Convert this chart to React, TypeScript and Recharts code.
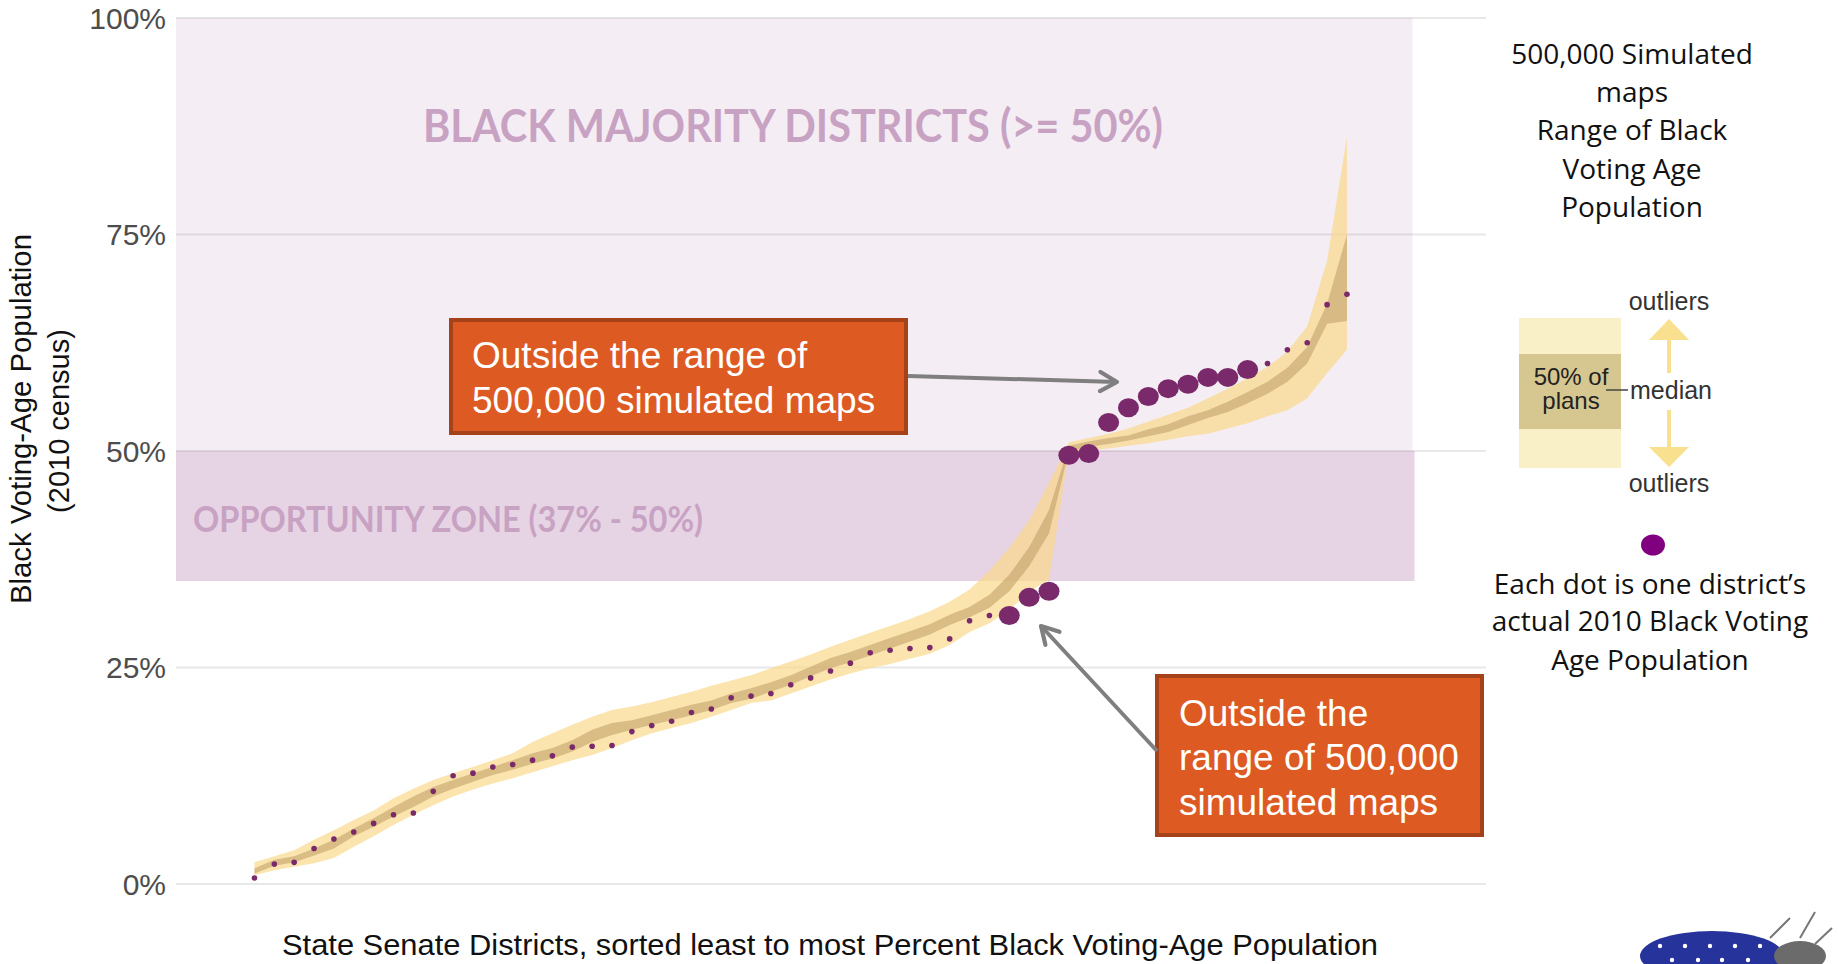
import React from 'react';
import { ComposedChart, Area, Scatter, XAxis, YAxis, CartesianGrid, ReferenceArea } from 'recharts';

// actual 2010 black VAP of each senate district, sorted low to high
const districtVap = [
  0.7, 2.3, 2.5, 4.1, 5.2, 6.0, 7.0, 8.0, 8.2, 10.7,
  12.5, 12.8, 13.5, 13.8, 14.3, 14.8, 15.8, 15.9, 16.0, 17.6,
  18.3, 18.8, 19.8, 20.2, 21.5, 21.7, 22.0, 23.0, 23.8, 24.6,
  25.5, 26.7, 27.0, 27.2, 27.3, 28.3, 30.4, 31.0, 31.0, 33.1,
  33.8, 49.5, 49.7, 53.3, 55.0, 56.3, 57.2, 57.7, 58.5, 58.5,
  59.4, 60.1, 61.7, 62.5, 66.9, 68.1,
];

// range of the 500,000 simulated maps (min / max)
const outerLow = [
  1.0, 1.6, 2.0, 2.4, 3.0, 4.3, 5.5, 6.8, 8.0, 9.1,
  10.1, 10.9, 11.6, 12.2, 12.9, 13.6, 14.3, 14.9, 15.7, 16.6,
  17.4, 18.0, 18.6, 19.3, 20.1, 20.9, 21.2, 22.0, 22.8, 23.6,
  24.3, 24.9, 25.4, 26.0, 26.6, 27.6, 29.1, 30.1, 31.6, 33.8,
  35.1, 49.9, 50.1, 50.3, 50.6, 50.9, 51.3, 51.7, 52.0, 52.6,
  53.2, 54.0, 54.7, 56.1, 59.0, 61.7,
];
const outerHigh = [
  2.5, 3.2, 3.9, 5.1, 6.2, 7.4, 8.5, 9.9, 11.0, 12.0,
  12.8, 13.5, 14.3, 15.1, 16.4, 17.4, 18.4, 19.3, 20.1, 20.5,
  21.0, 21.6, 22.2, 22.9, 23.5, 24.1, 24.9, 25.7, 26.5, 27.4,
  28.2, 29.0, 29.8, 30.6, 31.5, 32.6, 34.0, 36.2, 38.8, 42.0,
  46.3, 51.0, 51.5, 52.0, 52.6, 53.4, 54.2, 55.0, 56.1, 57.2,
  58.4, 59.7, 61.5, 64.4, 72.0, 86.3,
];

// middle 50% of plans
const innerLow = [
  1.2, 2.1, 2.5, 3.3, 4.1, 5.5, 6.6, 7.8, 8.9, 10.1,
  11.0, 11.8, 12.6, 13.2, 13.9, 14.5, 15.3, 16.4, 17.2, 17.8,
  18.4, 18.9, 19.5, 20.1, 20.9, 21.4, 22.2, 23.0, 24.0, 24.9,
  25.6, 26.4, 27.2, 28.0, 28.8, 29.9, 30.8, 31.9, 33.8, 36.7,
  40.5, 50.0, 50.5, 50.8, 51.2, 51.7, 52.2, 53.0, 53.8, 54.5,
  55.5, 56.6, 58.0, 60.1, 64.7, 65.0,
];
const innerHigh = [
  1.8, 2.8, 3.2, 4.1, 5.1, 6.4, 7.6, 8.9, 10.1, 11.2,
  12.0, 12.8, 13.5, 14.3, 15.1, 15.7, 16.6, 17.8, 18.6, 18.9,
  19.5, 20.1, 20.7, 21.2, 22.0, 22.6, 23.3, 24.1, 25.1, 26.1,
  26.8, 27.6, 28.4, 29.2, 30.0, 31.1, 32.0, 33.4, 35.7, 38.9,
  43.2, 50.6, 51.1, 51.5, 51.8, 52.5, 53.1, 54.0, 54.7, 55.7,
  56.8, 58.0, 59.6, 62.0, 67.0, 75.0,
];

// districts falling outside the simulated range
const outlierDistricts = [39, 40, 41, 42, 43, 44, 45, 46, 47, 48, 49, 50, 51];
const yTicks = [0, 25, 50, 75, 100];

const bandData = districtVap.map((v, i) => ({
  district: i + 1,
  outer: [outerLow[i], outerHigh[i]],
  inner: [innerLow[i], innerHigh[i]],
}));
const allDots = districtVap.map((v, i) => ({ district: i + 1, vap: v }));
const insideDots = allDots.filter((d) => !outlierDistricts.includes(d.district));
const outsideDots = allDots.filter((d) => outlierDistricts.includes(d.district));

const DOT = '#7a2a6a';
const ARIAL = '"Liberation Sans", Arial, sans-serif';
const SOFT = '"Open Sans", sans-serif';

const SmallDot = (props: any) => <circle cx={props.cx} cy={props.cy} r={2.8} fill={DOT} />;
const BigDot = (props: any) => <ellipse cx={props.cx} cy={props.cy} rx={10.5} ry={9.5} fill={DOT} />;

const ZoneLabel = ({ viewBox, text, dx, dy, size, len }: any) => (
  <text
    x={viewBox.x + dx}
    y={viewBox.y + dy}
    fill="#c8a2c3"
    fontFamily="Lato, sans-serif"
    fontWeight={700}
    fontSize={size}
    textLength={len}
    lengthAdjust="spacingAndGlyphs"
  >
    {text}
  </text>
);

const XTitle = () => (
  <text x={830} y={945} textAnchor="middle" dominantBaseline="central" fontFamily={ARIAL} fontSize={29}
    textLength={1096} lengthAdjust="spacingAndGlyphs" fill="#111">
    State Senate Districts, sorted least to most Percent Black Voting-Age Population
  </text>
);

const YTitle = () => (
  <g fontFamily={ARIAL} fontSize={29} fill="#111" textAnchor="middle">
    <text transform="translate(21,419) rotate(-90)" dominantBaseline="central" textLength={370} lengthAdjust="spacingAndGlyphs">
      Black Voting-Age Population
    </text>
    <text transform="translate(59,421) rotate(-90)" dominantBaseline="central">(2010 census)</text>
  </g>
);

const Callout = ({ x, y, w, h, lines, tx, ty }: any) => (
  <g>
    <rect x={x} y={y} width={w} height={h} fill="#dd5a23" stroke="#a5421a" strokeWidth={4} />
    {lines.map((l: string, i: number) => (
      <text key={l} x={tx} y={ty[i]} dominantBaseline="central" fill="#fff" fontFamily={ARIAL} fontSize={37}>
        {l}
      </text>
    ))}
  </g>
);

const Overlay = () => (
  <svg width={1838} height={964} style={{ position: 'absolute', left: 0, top: 0, pointerEvents: 'none' }}>
    <defs>
      <marker id="chev" viewBox="0 0 20 20" refX="17" refY="10" markerWidth="6" markerHeight="6" orient="auto" markerUnits="strokeWidth">
        <path d="M3,2 L17,10 L3,18" fill="none" stroke="#7f7f7f" strokeWidth={3.5} strokeLinecap="round" strokeLinejoin="round" />
      </marker>
    </defs>

    <Callout x={451} y={320} w={455} h={113} tx={472} ty={[355, 400]}
      lines={['Outside the range of', '500,000 simulated maps']} />
    <line x1={908} y1={376} x2={1117} y2={382} stroke="#7f7f7f" strokeWidth={4} markerEnd="url(#chev)" />

    <Callout x={1157} y={676} w={325} h={159} tx={1179} ty={[713, 757, 802]}
      lines={['Outside the', 'range of 500,000', 'simulated maps']} />
    <line x1={1157} y1={751} x2={1041} y2={626} stroke="#7f7f7f" strokeWidth={4} markerEnd="url(#chev)" />

    <g fontFamily={SOFT} fontSize={28} fill="#111" textAnchor="middle">
      {['500,000 Simulated', 'maps', 'Range of Black', 'Voting Age', 'Population'].map((t, i) => (
        <text key={t} x={1632} y={[53, 91, 129, 168, 206][i]} dominantBaseline="central">{t}</text>
      ))}
    </g>

    <rect x={1519} y={318} width={102} height={150} fill="#faf0c8" />
    <rect x={1519} y={354} width={102} height={75} fill="#d6c68f" />
    <g fontFamily={ARIAL} fontSize={24} fill="#222" textAnchor="middle">
      <text x={1571} y={376} dominantBaseline="central">50% of</text>
      <text x={1571} y={400} dominantBaseline="central">plans</text>
    </g>
    <line x1={1606} y1={390} x2={1628} y2={390} stroke="#444" strokeWidth={1.5} />
    <g fontFamily={ARIAL} fontSize={25} fill="#333">
      <text x={1630} y={390} dominantBaseline="central">median</text>
      <text x={1669} y={301} textAnchor="middle" dominantBaseline="central">outliers</text>
      <text x={1669} y={483} textAnchor="middle" dominantBaseline="central">outliers</text>
    </g>
    <polygon points="1669,319 1649,340 1689,340" fill="#f8e08f" />
    <rect x={1667} y={340} width={4} height={33} fill="#f8e08f" />
    <rect x={1667} y={410} width={4} height={37} fill="#f8e08f" />
    <polygon points="1649,447 1689,447 1669,467" fill="#f8e08f" />

    <ellipse cx={1653} cy={545} rx={12} ry={10.5} fill="#800080" />
    <g fontFamily={SOFT} fontSize={28} fill="#111" textAnchor="middle">
      {['Each dot is one district\u2019s', 'actual 2010 Black Voting', 'Age Population'].map((t, i) => (
        <text key={t} x={1650} y={[583, 620, 659][i]} dominantBaseline="central">{t}</text>
      ))}
    </g>

    <g>
      <ellipse cx={1712} cy={956} rx={72} ry={25} fill="#25339a" />
      {[1660, 1685, 1710, 1735, 1760, 1672, 1698, 1722, 1748].map((cx, i) => (
        <circle key={i} cx={cx} cy={i < 5 ? 946 : 960} r={2.2} fill="#fff" />
      ))}
      <ellipse cx={1800} cy={956} rx={26} ry={15} fill="#6b6b6b" />
      <path d="M1770,938 L1790,918 M1800,938 L1815,912 M1815,944 L1832,928" stroke="#777" strokeWidth={2} fill="none" />
    </g>
  </svg>
);

export default function App() {
  return (
    <div style={{ position: 'absolute', left: 0, top: 0, width: 1838, height: 964, background: '#fff' }}>
      <ComposedChart width={1838} height={964} data={bandData} margin={{ top: 18, right: 352, bottom: 0, left: 76 }}>
        <CartesianGrid vertical={false} stroke="#e8e8e8" strokeWidth={2} />
        <ReferenceArea
          x1={-2.95}
          x2={59.3}
          y1={50}
          y2={100}
          fill="#8c3c82"
          fillOpacity={0.09}
          stroke="none"
          label={<ZoneLabel text="BLACK MAJORITY DISTRICTS (>= 50%)" dx={247} dy={124} size={46} len={740} />}
        />
        <ReferenceArea
          x1={-2.95}
          x2={59.4}
          y1={35}
          y2={50}
          fill="#8c3c82"
          fillOpacity={0.22}
          stroke="none"
          label={<ZoneLabel text="OPPORTUNITY ZONE (37% - 50%)" dx={17} dy={81} size={36} len={510} />}
        />
        <XAxis
          dataKey="district"
          type="number"
          domain={[-2.95, 63]}
          height={80}
          tick={false}
          tickLine={false}
          axisLine={false}
          label={<XTitle />}
        />
        <YAxis
          type="number"
          domain={[0, 100]}
          ticks={yTicks}
          width={100}
          tickLine={false}
          axisLine={false}
          tickMargin={4}
          tick={{ fill: '#4d4d4d', fontSize: 30, fontFamily: ARIAL }}
          tickFormatter={(v: number) => `${v}%`}
          label={<YTitle />}
        />
        <Area dataKey="outer" type="linear" stroke="none" fill="#f9d98a" fillOpacity={0.7} isAnimationActive={false} />
        <Area dataKey="inner" type="linear" stroke="none" fill="#b8965e" fillOpacity={0.5} isAnimationActive={false} />
        <Scatter data={insideDots} dataKey="vap" shape={<SmallDot />} isAnimationActive={false} />
        <Scatter data={outsideDots} dataKey="vap" shape={<BigDot />} isAnimationActive={false} />
      </ComposedChart>
      <Overlay />
    </div>
  );
}
